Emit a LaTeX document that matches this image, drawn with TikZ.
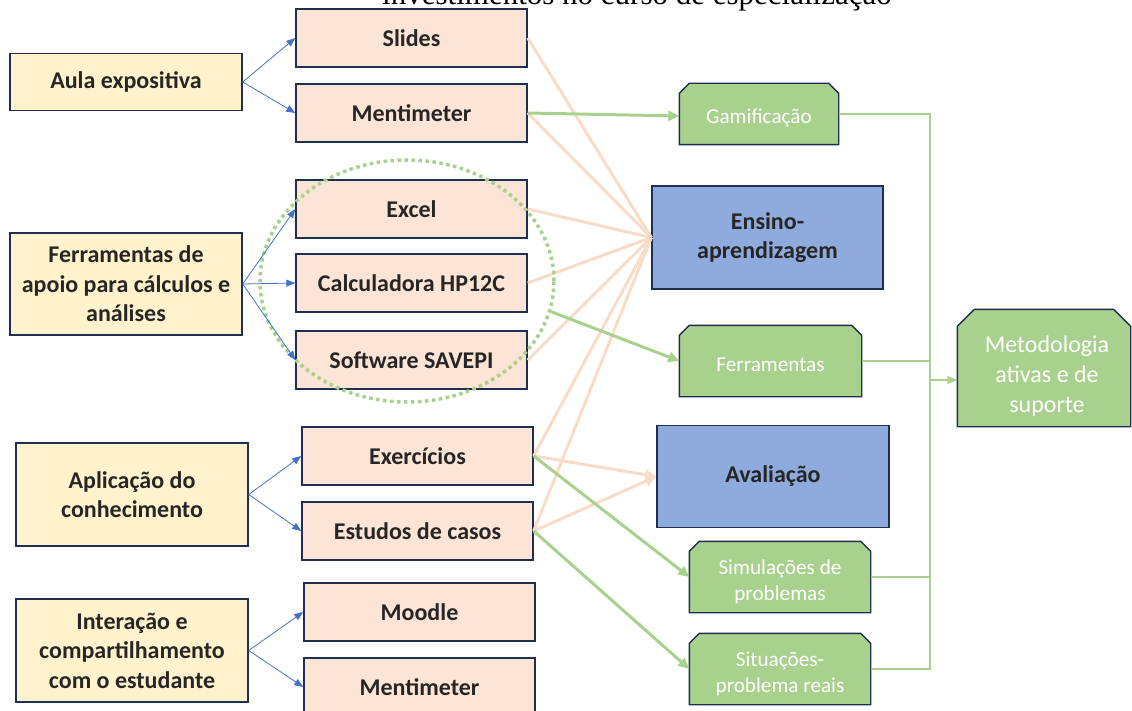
\documentclass[tikz,border=0pt]{standalone}
\usepackage{fontspec}
\setmainfont{Carlito}
\newfontfamily\titlefont{Liberation Serif}
\usetikzlibrary{shapes.misc,shapes.geometric,arrows.meta}
\definecolor{yel}{HTML}{FFF2CC}
\definecolor{pea}{HTML}{FCE4D6}
\definecolor{blu}{HTML}{8FAADC}
\definecolor{grn}{HTML}{A9D18E}
\definecolor{bord}{HTML}{1F2F4F}
\definecolor{txt}{HTML}{262626}
\definecolor{arrb}{HTML}{4472C4}
\definecolor{peal}{HTML}{F9DCC8}
\tikzset{
  base/.style={draw=bord, line width=1.4pt, text=txt, align=center, inner sep=2pt},
  ybox/.style={base, fill=yel, minimum width=232pt, font=\fontsize{24}{29.5}\selectfont\bfseries},
  pbox/.style={base, fill=pea, minimum width=231pt, minimum height=58pt, font=\fontsize{24}{29.5}\selectfont\bfseries},
  bbox/.style={base, fill=blu, minimum width=231pt, minimum height=102pt, font=\fontsize{24}{29.5}\selectfont\bfseries},
  gbox/.style={rectangle, inner sep=0pt, outer sep=0.7pt},
  gshape/.style={fill=grn, draw=bord, line width=1.4pt, line join=miter},
  gtext/.style={text=white, align=center, inner sep=0pt, font=\fontsize{21.2}{26}\selectfont},
  barr/.style={draw=arrb, line width=0.8pt, -{Triangle[length=9pt,width=7pt]}},
  garr/.style={draw=grn, line width=3pt, -{Triangle[length=11pt,width=10pt]}},
  pline/.style={draw=peal, line width=3pt},
  parr/.style={pline, -{Triangle[length=11pt,width=10pt]}},
  gthin/.style={draw=grn, line width=1.5pt},
}
\newcommand\chamfbox[2]{%
  \path[gshape] ([yshift=-#2]#1.north west) -- ([xshift=#2]#1.north west) -- ([xshift=-#2]#1.north east)
    -- ([yshift=-#2]#1.north east) -- (#1.south east) -- (#1.south west) -- cycle;}
\begin{document}
\begin{tikzpicture}[x=1pt,y=-1pt]
\useasboundingbox (0,0) rectangle (1132,711);
\clip (0,0) rectangle (1132,711);
\node[font=\titlefont\fontsize{31}{31}\selectfont, anchor=base, text=black, inner sep=0pt] (title) at (637,5) {investimentos no curso de especialização};

% left boxes
\node[ybox, minimum height=57pt] (aula) at (126,82) {Aula expositiva};
\node[ybox, minimum height=102pt] (ferr) at (126,284) {Ferramentas de\\apoio para cálculos e\\análises};
\node[ybox, minimum height=103pt] (apl) at (132,494.5) {Aplicação do\\conhecimento};
\node[ybox, minimum height=103pt] (int) at (132,650.5) {Interação e\\compartilhamento\\com o estudante};

% peach boxes
\node[pbox] (slides) at (411.5,38) {Slides};
\node[pbox] (menti) at (411.5,113) {Mentimeter};
\node[pbox] (excel) at (411.5,209) {Excel};
\node[pbox] (calc) at (411.5,283) {Calculadora HP12C};
\node[pbox] (save) at (411.5,360) {Software SAVEPI};
\node[pbox] (exer) at (417.5,456) {Exercícios};
\node[pbox] (estu) at (417.5,531) {Estudos de casos};
\node[pbox] (mood) at (419.5,612) {Moodle};
\node[pbox] (mentb) at (419.5,687) {Mentimeter};

% blue boxes
\node[bbox, minimum height=103pt] (ens) at (767.5,237.5) {Ensino-\\aprendizagem};
\node[bbox, minimum width=232pt] (ava) at (773,476.5) {Avaliação};

% green boxes
\node[gbox, minimum width=158pt, minimum height=60pt] (gam) at (759,114) {};
\chamfbox{gam}{10pt}
\node[gtext] (gamt) at (759,118) {Gamificação};
\node[gbox, minimum width=181pt, minimum height=70pt] (fer) at (770.5,361) {};
\chamfbox{fer}{10pt}
\node[gtext] (fert) at (770.5,365) {Ferramentas};
\node[gbox, minimum width=180pt, minimum height=70pt] (sim) at (780,577) {};
\chamfbox{sim}{10pt}
\node[gtext] (simt) at (780,582) {Simulações de\\problemas};
\node[gbox, minimum width=180pt, minimum height=70pt] (sit) at (780,669) {};
\chamfbox{sit}{10pt}
\node[gtext] (sitt) at (780,674) {Situações-\\problema reais};
\node[gbox, minimum width=172pt, minimum height=116pt] (met) at (1044,368) {};
\chamfbox{met}{17pt}
\node[gtext, font=\fontsize{24}{30}\selectfont] (mett) at (1047,376) {Metodologia\\ativas e de\\suporte};

% peach connectors
\foreach \s in {slides,menti,excel,calc,save,exer,estu}
  \draw[pline] (\s.east) -- (ens.west);
\draw[parr] (exer.east) -- (ava.west);
\draw[parr] (estu.east) -- (ava.west);

% dotted ellipse
\node[ellipse, draw=grn, line width=3.5pt, dash pattern=on 3.5pt off 3.5pt, minimum width=294pt, minimum height=242pt] (ell) at (407,281) {};

% blue arrows
\draw[barr] (aula.east) -- (slides.west);
\draw[barr] (aula.east) -- (menti.west);
\draw[barr] (ferr.east) -- (excel.west);
\draw[barr] (ferr.east) -- (calc.west);
\draw[barr] (ferr.east) -- (save.west);
\draw[barr] (apl.east) -- (exer.west);
\draw[barr] (apl.east) -- (estu.west);
\draw[barr] (int.east) -- (mood.west);
\draw[barr] (int.east) -- (mentb.west);

% green thick arrows
\draw[garr] (menti.east) -- ([yshift=-2pt]gam.west);
\draw[garr] (ell.-12) -- (fer.west);
\draw[garr] (exer.east) -- (sim.west);
\draw[garr] (estu.east) -- (sit.west);

% bus
\coordinate (bt) at (930,114);
\coordinate (bb) at (930,669);
\coordinate (bm) at (930,380);
\draw[gthin] (gam.east) -- (gam.east -| bt) -- (bb) -- (sit.east);
\draw[gthin] (fer.east) -- (fer.east -| bt);
\draw[gthin] (sim.east) -- (sim.east -| bt);
\draw[gthin, -{Triangle[length=10pt,width=8pt]}] (bm) -- (bm -| met.west);
\end{tikzpicture}
\end{document}
